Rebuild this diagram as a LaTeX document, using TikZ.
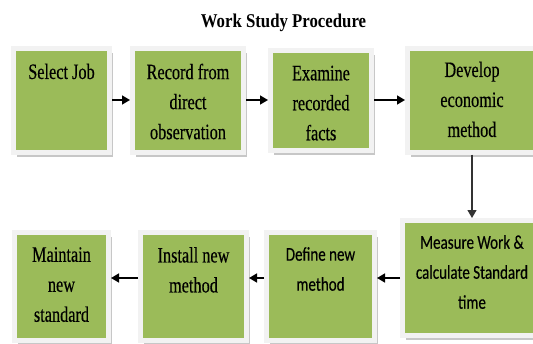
\documentclass[tikz,border=0pt]{standalone}
\usepackage{fontspec}
\setmainfont{Liberation Serif}[FakeStretch=0.74, FakeBold=0.35]
\newfontfamily\titlefont{Liberation Serif}[FakeStretch=0.86]
\newfontfamily\calibrifont{Carlito}[FakeStretch=0.77, FakeBold=0.35]
\usetikzlibrary{arrows.meta, positioning, shadows}
\definecolor{boxgreen}{RGB}{155,187,89}
\definecolor{framegray}{RGB}{242,242,242}

\begin{document}
\begin{tikzpicture}[x=1pt, y=-1pt,
  stage/.style={draw=framegray, line width=5pt, fill=boxgreen, outer sep=2.5pt,
    drop shadow={shadow xshift=3.5pt, shadow yshift=-4.5pt, fill=black!22, opacity=1}},
  serif/.style={align=center, inner sep=0pt, font=\fontsize{22}{30}\selectfont},
  sans/.style={align=center, inner sep=0pt, font=\calibrifont\fontsize{19.5}{30}\selectfont},
  flow/.style={-{Triangle[length=8pt, width=9pt]}, line width=1.6pt}]
  \useasboundingbox (0,0) rectangle (533,343);
  \clip (0,0) rectangle (533,343);
  \node[anchor=base, font=\titlefont\fontsize{19.5}{22}\selectfont\bfseries] (title) at (283.5,27) {Work Study Procedure};
  % top row
  \node[stage, minimum width=96pt, minimum height=104pt] (select) at (61.5,100) {};
  \node[stage, minimum width=111pt, minimum height=104pt] (record) at (188,100) {};
  \node[stage, minimum width=101pt, minimum height=100pt] (examine) at (321,100) {};
  \node[stage, minimum width=129pt, minimum height=104pt] (develop) at (472,100) {};
  \node[serif, below=18pt of select.north] (selecttxt) {Select Job};
  \node[serif, below=18pt of record.north] (recordtxt) {Record from\\direct\\observation};
  \node[serif, below=18pt of examine.north] (examinetxt) {Examine\\recorded\\facts};
  \node[serif, below=16pt of develop.north] (developtxt) {Develop\\economic\\method};
  % bottom row
  \node[stage, minimum width=139pt, minimum height=115pt] (measure) at (472,278) {};
  \node[stage, minimum width=108pt, minimum height=108pt] (define) at (320.5,286.5) {};
  \node[stage, minimum width=106pt, minimum height=108pt] (install) at (193.5,286.5) {};
  \node[stage, minimum width=94pt, minimum height=108pt] (maintain) at (61.5,286.5) {};
  \node[sans, below=17pt of measure.north] (measuretxt) {Measure Work \&\\calculate Standard\\time};
  \node[sans, below=17pt of define.north] (definetxt) {Define new\\method};
  \node[serif, below=17pt of install.north] (installtxt) {Install new\\method};
  \node[serif, below=17pt of maintain.north] (maintaintxt) {Maintain\\new\\standard};
  % arrows
  \draw[flow] (select) -- (record);
  \draw[flow] (record) -- (examine);
  \draw[flow] (examine) -- (develop);
  \draw[flow, line width=1.2pt, black!80] (develop) -- (measure);
  \draw[flow] (measure.west) -- (measure.west -| define.east);
  \draw[flow] (define.west |- measure.west) -- (install.east |- measure.west);
  \draw[flow] (install.west |- measure.west) -- (maintain.east |- measure.west);
\end{tikzpicture}
\end{document}
